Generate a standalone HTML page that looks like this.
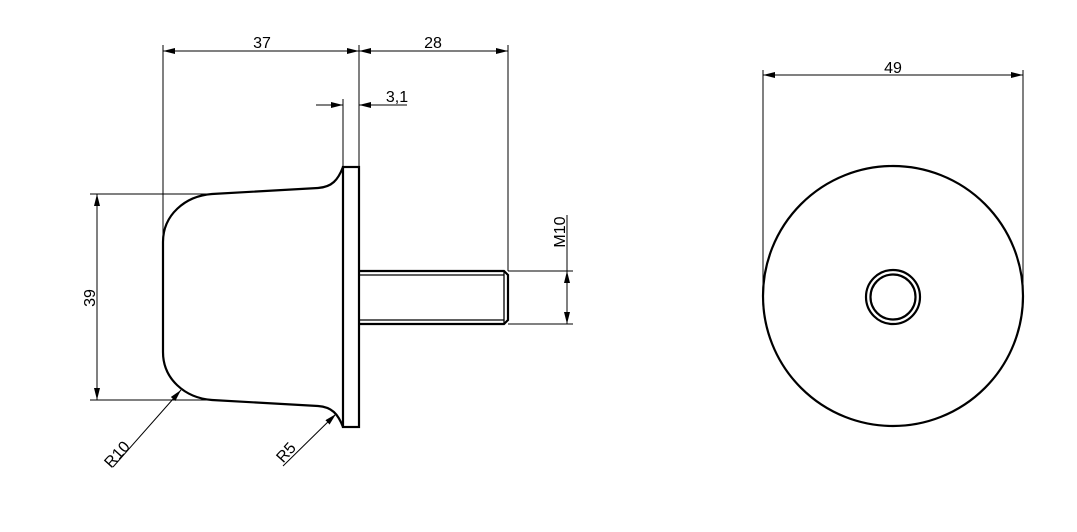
<!DOCTYPE html>
<html><head><meta charset="utf-8"><style>
html,body{margin:0;padding:0;background:#fff;width:1077px;height:532px;overflow:hidden}
text{font-family:"Liberation Sans","DejaVu Sans",sans-serif;font-size:16px;fill:#000}
</style></head><body>
<svg width="1077" height="532" viewBox="0 0 1077 532" xmlns="http://www.w3.org/2000/svg">
<defs>
<marker id="a" viewBox="0 0 12 6" refX="12" refY="3" markerWidth="12" markerHeight="6" orient="auto-start-reverse" markerUnits="userSpaceOnUse"><path d="M0,0 L12,3 L0,6z" fill="#000"/></marker>
</defs>
<g fill="none" stroke="#000">
<!-- body outline -->
<path stroke-width="2.2" d="M343,167 C338,180 332,187 318,188 L212,194 C185,196 163,215 163,242 L163,352 C163,379 185,398 212,400 L318,406 C332,407 338,414 343,427"/>
<rect x="343" y="167" width="16" height="260" stroke-width="2.2"/>
<!-- stud -->
<path stroke-width="2.2" d="M359,271 L504,271 L508,275 L508,320 L504,324 L359,324"/>
<path stroke-width="1.3" d="M359,275 L504,275 M359,320 L504,320 M504,271 L504,324"/>
<!-- extension lines -->
<g stroke-width="1">
<path d="M163,45 V238 M359,45 V167 M508,45 V271 M343,99 V167"/>
<path d="M90,194 H212 M90,400 H212"/>
<path d="M508,271 H573 M508,324 H573"/>
<path d="M763,70 V295 M1023,70 V295"/>
</g>
<!-- dimension lines -->
<g stroke-width="1">
<line x1="163" y1="51" x2="359" y2="51" marker-start="url(#a)" marker-end="url(#a)"/>
<line x1="359" y1="51" x2="508" y2="51" marker-start="url(#a)" marker-end="url(#a)"/>
<line x1="316" y1="105" x2="343" y2="105" marker-end="url(#a)"/>
<line x1="407" y1="105" x2="359" y2="105" marker-end="url(#a)"/>
<line x1="97" y1="194" x2="97" y2="400" marker-start="url(#a)" marker-end="url(#a)"/>
<line x1="567" y1="215" x2="567" y2="271" />
<line x1="567" y1="297" x2="567" y2="271" marker-end="url(#a)"/>
<line x1="567" y1="297" x2="567" y2="324" marker-end="url(#a)"/>
<line x1="763" y1="75" x2="1023" y2="75" marker-start="url(#a)" marker-end="url(#a)"/>
<line x1="113" y1="467" x2="181" y2="390" marker-end="url(#a)"/>
<line x1="283" y1="466" x2="336" y2="414" marker-end="url(#a)"/>
</g>
<!-- right view -->
<circle cx="893" cy="296" r="130" stroke-width="2.2"/>
<circle cx="893" cy="297" r="27" stroke-width="2.2"/>
<circle cx="893" cy="297" r="22.5" stroke-width="2.2"/>
</g>
<text x="262" y="48" text-anchor="middle">37</text>
<text x="433" y="48" text-anchor="middle">28</text>
<text x="397" y="102" text-anchor="middle">3,1</text>
<text x="893" y="73" text-anchor="middle">49</text>
<text transform="translate(95,298) rotate(-90)" text-anchor="middle">39</text>
<text transform="translate(565,232) rotate(-90)" text-anchor="middle">M10</text>
<text transform="translate(121,458) rotate(-48)" text-anchor="middle">R10</text>
<text transform="translate(290,456) rotate(-48)" text-anchor="middle">R5</text>
</svg>
</body></html>
